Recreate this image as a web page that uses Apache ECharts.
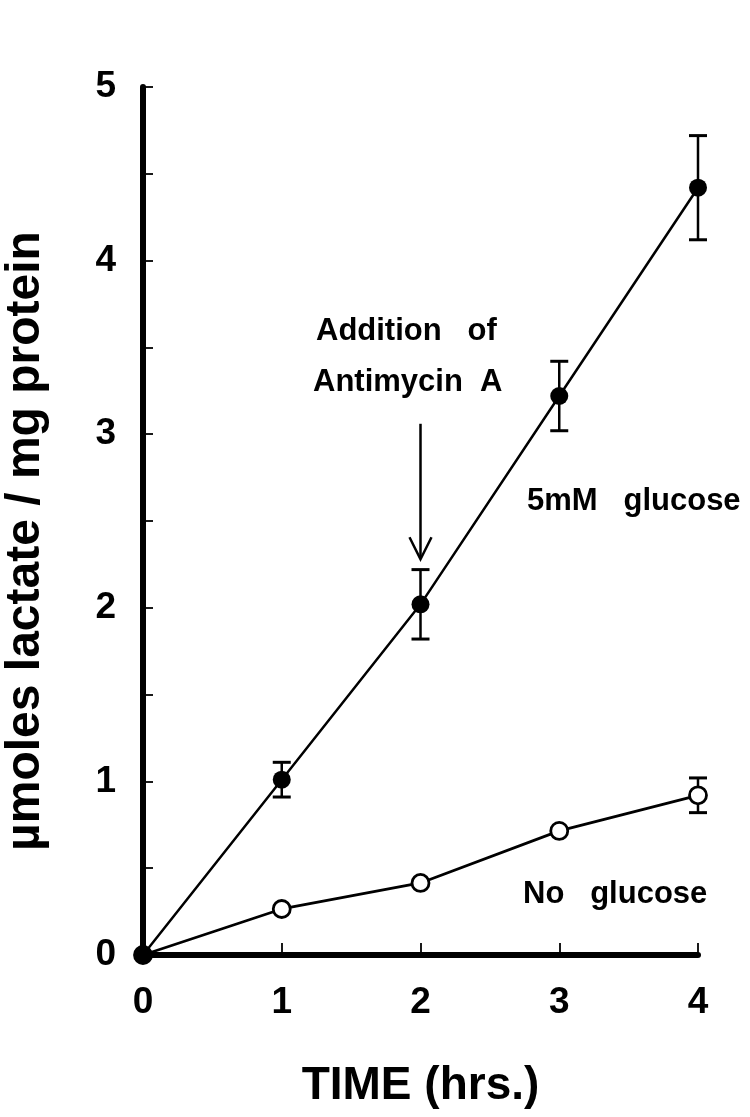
<!DOCTYPE html>
<html>
<head>
<meta charset="utf-8">
<script src="https://cdn.jsdelivr.net/npm/echarts@6/dist/echarts.min.js"></script>
<style>
html,body{margin:0;padding:0;background:#fff;}
#c{width:750px;height:1117px;}
</style>
</head>
<body>
<div id="c"></div>
<script>
var times = [0, 1, 2, 3, 4];
var glucose = [0, 1.01, 2.02, 3.22, 4.42];
var glucoseErr = [0, 0.1, 0.2, 0.2, 0.3];
var noGlucose = [0, 0.265, 0.415, 0.715, 0.92];
var noGlucoseErr = [0, 0, 0, 0, 0.1];
var yTicks = [0, 1, 2, 3, 4, 5];
var xTicks = [0, 1, 2, 3, 4];
var arrowX = 2, arrowFrom = 3.06, arrowTo = 2.28;

var FONT = '"Liberation Sans", Arial, Helvetica, sans-serif';

function pairs(xs, ys) { return xs.map(function (x, i) { return [x, ys[i]]; }); }
function errData(xs, ys, es) {
  var out = [];
  xs.forEach(function (x, i) { if (es[i] > 0) out.push([x, ys[i] - es[i], ys[i] + es[i]]); });
  return out;
}

function renderErr(params, api) {
  var x = api.value(0);
  var lo = api.coord([x, api.value(1)]);
  var hi = api.coord([x, api.value(2)]);
  var w = 9;
  var st = { stroke: '#000', lineWidth: 2.5 };
  return {
    type: 'group',
    children: [
      { type: 'line', shape: { x1: lo[0], y1: lo[1], x2: hi[0], y2: hi[1] }, style: st },
      { type: 'line', shape: { x1: lo[0] - w, y1: lo[1], x2: lo[0] + w, y2: lo[1] }, style: { stroke: '#000', lineWidth: 3 } },
      { type: 'line', shape: { x1: hi[0] - w, y1: hi[1], x2: hi[0] + w, y2: hi[1] }, style: { stroke: '#000', lineWidth: 3 } }
    ]
  };
}

function renderArrow(params, api) {
  var a = api.coord([api.value(0), api.value(1)]);
  var b = api.coord([api.value(0), api.value(2)]);
  return {
    type: 'group',
    children: [
      { type: 'line', shape: { x1: a[0], y1: a[1], x2: b[0], y2: b[1] - 1 }, style: { stroke: '#000', lineWidth: 2.5 } },
      { type: 'polyline', shape: { points: [[b[0] - 11, b[1] - 22], [b[0], b[1]], [b[0] + 11, b[1] - 22]] }, style: { stroke: '#000', lineWidth: 2.5, fill: null } }
    ]
  };
}

var chart = echarts.init(document.getElementById('c'), null, { renderer: 'canvas' });
chart.setOption({
  backgroundColor: '#fff',
  animation: false,
  grid: { left: 143, right: 52, top: 87, bottom: 162, containLabel: false },
  xAxis: {
    type: 'value', min: 0, max: 4, interval: 1,
    axisLine: { show: true, onZero: false, lineStyle: { color: '#000', width: 6 } },
    axisTick: { show: true, inside: true, length: 12, lineStyle: { color: '#000', width: 1.8 } },
    axisLabel: {
      margin: 29, color: '#000', fontFamily: FONT, fontWeight: 'bold', fontSize: 37,
      formatter: function (v) { return xTicks.indexOf(v) >= 0 ? String(v) : ''; }
    },
    splitLine: { show: false },
    name: 'TIME (hrs.)', nameLocation: 'middle', nameGap: 108,
    nameTextStyle: { color: '#000', fontFamily: FONT, fontWeight: 'bold', fontSize: 46 }
  },
  yAxis: {
    type: 'value', min: 0, max: 5, interval: 0.5,
    axisLine: { show: true, onZero: false, lineStyle: { color: '#000', width: 6 } },
    axisTick: { show: true, inside: true, length: 10, lineStyle: { color: '#000', width: 1.8 } },
    axisLabel: {
      margin: 27, color: '#000', fontFamily: FONT, fontWeight: 'bold', fontSize: 37,
      formatter: function (v) { return yTicks.indexOf(v) >= 0 ? String(v) : ''; }
    },
    splitLine: { show: false }
  },
  graphic: [
    { type: 'text', x: 26, y: 541, rotation: Math.PI / 2,
      style: { text: 'µmoles lactate / mg protein', fill: '#000', font: 'bold 48px ' + FONT, textAlign: 'center', textVerticalAlign: 'middle' } },
    { type: 'text', x: 316, y: 331,
      style: { text: 'Addition   of', fill: '#000', font: 'bold 31px ' + FONT, textAlign: 'left', textVerticalAlign: 'middle' } },
    { type: 'text', x: 313, y: 382,
      style: { text: 'Antimycin  A', fill: '#000', font: 'bold 31px ' + FONT, textAlign: 'left', textVerticalAlign: 'middle' } },
    { type: 'text', x: 527, y: 501,
      style: { text: '5mM   glucose', fill: '#000', font: 'bold 31px ' + FONT, textAlign: 'left', textVerticalAlign: 'middle' } },
    { type: 'text', x: 523, y: 894,
      style: { text: 'No   glucose', fill: '#000', font: 'bold 31px ' + FONT, textAlign: 'left', textVerticalAlign: 'middle' } }
  ],
  series: [
    {
      type: 'custom', name: 'arrow', renderItem: renderArrow, z: 2,
      data: [[arrowX, arrowFrom, arrowTo]], silent: true
    },
    {
      type: 'custom', name: 'err5mM', renderItem: renderErr, z: 3,
      data: errData(times, glucose, glucoseErr), silent: true
    },
    {
      type: 'custom', name: 'errNo', renderItem: renderErr, z: 3,
      data: errData(times, noGlucose, noGlucoseErr), silent: true
    },
    {
      type: 'line', name: 'No glucose', data: pairs(times, noGlucose), z: 4,
      symbol: 'circle', symbolSize: 17, showAllSymbol: true,
      lineStyle: { color: '#000', width: 2.8 },
      itemStyle: { color: '#fff', borderColor: '#000', borderWidth: 2.8 }
    },
    {
      type: 'line', name: '5mM glucose', data: pairs(times, glucose), z: 5,
      symbol: 'circle', symbolSize: 18, showAllSymbol: true,
      lineStyle: { color: '#000', width: 2.5 },
      itemStyle: { color: '#000', borderColor: '#000', borderWidth: 0 }
    }
  ]
});
</script>
</body>
</html>
